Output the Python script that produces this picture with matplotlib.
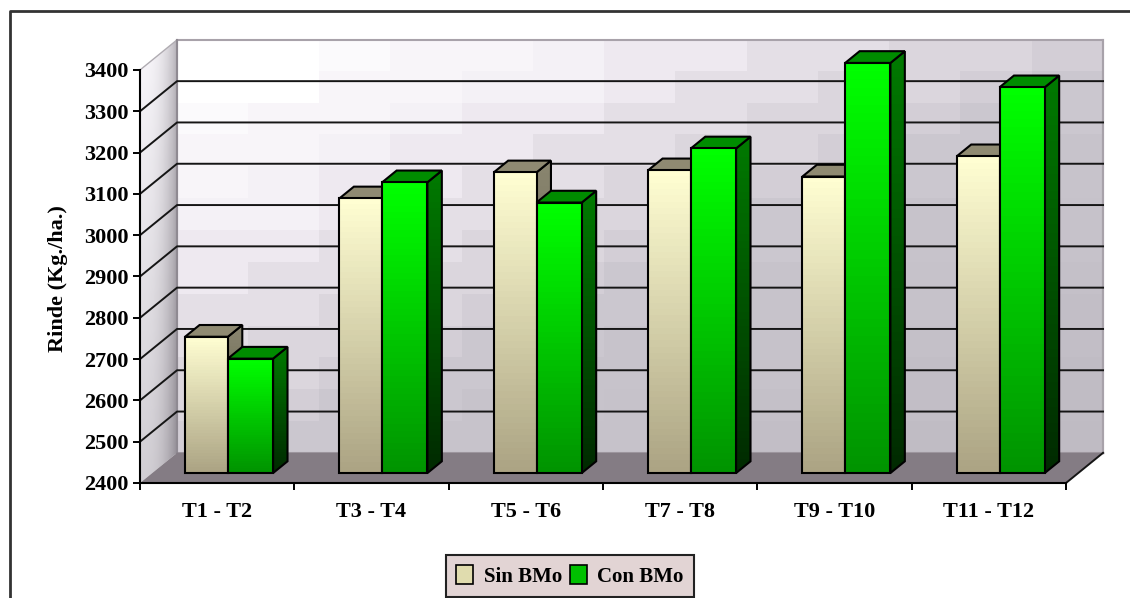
import numpy as np
import matplotlib
matplotlib.use('Agg')
import matplotlib.pyplot as plt
from matplotlib.colors import LinearSegmentedColormap
from matplotlib.lines import Line2D
from matplotlib.patches import Patch, Polygon

categories = ['T1 - T2', 'T3 - T4', 'T5 - T6', 'T7 - T8', 'T9 - T10', 'T11 - T12']
sin_bmo = [2730, 3065, 3128, 3133, 3118, 3167]
con_bmo = [2677, 3104, 3055, 3186, 3393, 3334]
y_ticks = [2400, 2500, 2600, 2700, 2800, 2900, 3000, 3100, 3200, 3300, 3400]

plt.rcParams['font.family'] = ['Liberation Serif', 'DejaVu Serif']
plt.rcParams['font.weight'] = 'bold'

# depth of the fake 3d box, in data units
DX = 0.24
DY = 73
YMIN = 2400
YMAX = 3400
N = len(categories)


def proj(x, y, d):
    return x + DX * d, y + DY * d


def clip_to(ax, im, pts):
    # keep the image inside a polygon, also above the axes box
    poly = Polygon(pts, closed=True, transform=ax.transData, facecolor='none', edgecolor='none')
    ax.add_patch(poly)
    im.set_clip_path(poly)
    im.set_clip_box(fig.bbox)


def gradient(ax, top, bottom, pts, z, steps=48):
    # vertical colour bands clipped to a polygon
    cmap = LinearSegmentedColormap.from_list('g', [top, bottom])
    xs = [p[0] for p in pts]
    ys = [p[1] for p in pts]
    data = np.linspace(0, 1, steps).reshape(-1, 1)
    im = ax.imshow(data, cmap=cmap, aspect='auto', interpolation='nearest', origin='upper',
                   extent=(min(xs), max(xs), min(ys), max(ys)), zorder=z)
    clip_to(ax, im, pts)


def bar3d(ax, x0, x1, value, front_top, front_bottom, side_top, side_bottom, top_col, z):
    d0, d1 = 0.33, 0.72
    fx0, fb = proj(x0, YMIN, d0)
    fx1, _ = proj(x1, YMIN, d0)
    _, ft = proj(x0, value, d0)
    bx1, bt = proj(x1, value, d1)
    bx0, _ = proj(x0, value, d1)
    _, bb = proj(x1, YMIN, d1)
    side = [(fx1, fb), (fx1, ft), (bx1, bt), (bx1, bb)]
    top = [(fx0, ft), (fx1, ft), (bx1, bt), (bx0, bt)]
    front = [(fx0, fb), (fx1, fb), (fx1, ft), (fx0, ft)]
    gradient(ax, side_top, side_bottom, side, z)
    ax.add_patch(Polygon(side, closed=True, facecolor='none', edgecolor='black', lw=1.5, zorder=z + 0.1, clip_on=False))
    ax.add_patch(Polygon(top, closed=True, facecolor=top_col, edgecolor='black', lw=1.5, zorder=z + 0.1, clip_on=False))
    gradient(ax, front_top, front_bottom, front, z + 0.2)
    ax.add_patch(Polygon(front, closed=True, facecolor='none', edgecolor='black', lw=1.5, zorder=z + 0.3, clip_on=False))


fig = plt.figure(figsize=(11.3, 5.98), dpi=100)
ax = fig.add_axes([140 / 1130, (598 - 483) / 598, 926 / 1130, 413 / 598])
ax.patch.set_visible(False)

# back wall, blocky diagonal shading
wall_cmap = LinearSegmentedColormap.from_list(
    'wall', [(0, '#ffffff'), (0.25, '#f3eff5'), (0.42, '#dcd7de'), (0.6, '#c9c5cd'), (1, '#bfbbc3')])
u, v = np.meshgrid(np.linspace(0, 1, 13), np.linspace(0, 1, 13))
wall = np.round((u + v) * 0.7 * 10) / 10
wall[:2, :2] = 0
wl, wb = proj(0, YMIN, 1)
wr, wt = proj(N, YMAX, 1)
wall_im = ax.imshow(wall, cmap=wall_cmap, aspect='auto', interpolation='nearest', origin='upper',
                    extent=(wl, wr, wb, wt), vmin=0, vmax=1.4, zorder=1)
wall_im.set_clip_box(fig.bbox)
ax.add_patch(Polygon([(wl, wb), (wl, wt), (wr, wt), (wr, wb)], closed=True, facecolor='none',
                     edgecolor='#a8a2aa', lw=1.5, zorder=1.1, clip_on=False))

# left wall, darker to the right and to the floor
side_pts = [(0, YMIN), (0, YMAX), (wl, wt), (wl, wb)]
cmap_side = LinearSegmentedColormap.from_list('side', ['#f8f6fa', '#8f8a92'])
su, sv = np.meshgrid(np.linspace(0, 1, 30), np.linspace(0, 1, 30))
side_im = ax.imshow(su ** 2.5 * 0.7 + sv * 0.4, cmap=cmap_side, aspect='auto', vmin=0, vmax=1.1,
                    extent=(0, wl, YMIN, wt), zorder=1)
clip_to(ax, side_im, side_pts)
ax.plot([0, wl], [YMAX, wt], color='#b0acb2', lw=1, zorder=1.2, clip_on=False)
ax.plot([wl, wl], [wb, wt], color='#8f8a92', lw=1.5, zorder=1.2, clip_on=False)

# floor
floor = [(0, YMIN), (N, YMIN), (wr, wb), (wl, wb)]
ax.add_patch(Polygon(floor, closed=True, facecolor='#847c84', edgecolor='none', zorder=1.3, clip_on=False))

# grid on both walls
for t in y_ticks[1:-1]:
    ax.plot([0, wl, wr], [t, t + DY, t + DY], color='#151515', lw=1.4, zorder=1.5, clip_on=False)
ax.plot([wl, wr], [YMIN + DY, YMIN + DY], color='#847c84', lw=1, zorder=1.5, clip_on=False)
ax.plot([N, wr], [YMIN, wb], color='#151515', lw=1.4, zorder=1.5, clip_on=False)
ax.plot([wr, wr], [wb, wt], color='#a8a2aa', lw=1.5, zorder=1.2, clip_on=False)

# bars
w0 = 0.277
w1 = 0.293
for i in range(N):
    c = i + 0.49
    z = 2 + i
    bar3d(ax, c - w0, c, sin_bmo[i], '#fffed2', '#aca484', '#8a8670', '#4e4c3a', '#8f8a72', z)
    bar3d(ax, c, c + w1, con_bmo[i], '#00ff00', '#009400', '#007a00', '#002a00', '#008c00', z + 0.5)

ax.set_xlim(0, N)
ax.set_ylim(YMIN, YMAX)
ax.set_xticks(np.arange(N + 1))
ax.set_xticks(np.arange(N) + 0.5, minor=True)
ax.set_xticklabels([])
ax.set_xticklabels(categories, minor=True, fontsize=16, fontweight='bold')
ax.tick_params(axis='x', which='major', length=5, width=1.4, direction='out')
ax.tick_params(axis='x', which='minor', length=0, pad=14)
ax.set_yticks(y_ticks)
ax.set_yticklabels([str(t) for t in y_ticks], fontsize=16, fontweight='bold')
ax.tick_params(axis='y', length=5, width=1.4, direction='out', pad=3)
ax.spines['top'].set_visible(False)
ax.spines['right'].set_visible(False)
for s in ['left', 'bottom']:
    ax.spines[s].set_linewidth(1.5)
    ax.spines[s].set_zorder(20)
ax.set_ylabel('Rinde (Kg./ha.)', fontsize=16, fontweight='bold')
ax.yaxis.set_label_coords(-72 / 926, 0.496)

handles = [Patch(facecolor='#e0dcae', edgecolor='black', lw=1.2, label='Sin BMo'),
           Patch(facecolor='#00c000', edgecolor='black', lw=1.2, label='Con BMo')]
leg = fig.legend(handles=handles, loc='center', bbox_to_anchor=(570 / 1130, 1 - 576 / 598), ncol=2,
                 fontsize=15, frameon=True, fancybox=False, facecolor='#e2d4d4', edgecolor='#222222',
                 framealpha=1, handlelength=0.8, handleheight=1.0, handletextpad=0.5, columnspacing=0.4,
                 borderpad=0.5)
leg.get_frame().set_linewidth(1.5)

# outer chart frame, cut off by the image on the right and bottom
fig.add_artist(Line2D([10 / 1130, 10 / 1130, 1], [0, 1 - 11 / 598, 1 - 11 / 598], color='#333333', lw=2))

fig.savefig('out.png', dpi=100, facecolor='white')
